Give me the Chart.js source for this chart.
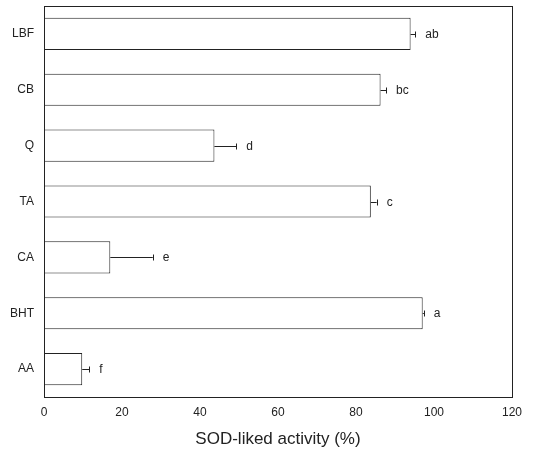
<!DOCTYPE html>
<html>
<head>
<meta charset="utf-8">
<script src="https://cdn.jsdelivr.net/npm/chart.js@4"></script>
<style>
  html, body { margin: 0; padding: 0; background: #fff; }
  #wrap { width: 537px; height: 453px; }
</style>
</head>
<body>
<div id="wrap"><canvas id="sodChart" width="537" height="453"></canvas></div>
<script>
// data
const categories = ['LBF', 'CB', 'Q', 'TA', 'CA', 'BHT', 'AA'];
const activity = [94.0, 86.3, 43.7, 83.8, 17.0, 97.1, 9.8];
const errors = [1.2, 1.4, 5.6, 1.5, 10.9, 0.3, 1.8];
const letters = ['ab', 'bc', 'd', 'c', 'e', 'a', 'f'];
const xTicks = [0, 20, 40, 60, 80, 100, 120];

const ink = '#222';
const face = '"Liberation Sans", Arial, sans-serif';

// error bars + significance letters, and the box around the plot
const extras = {
    id: 'extras',
    afterDatasetsDraw(chart) {
        const c = chart.ctx;
        const xs = chart.scales.x, ys = chart.scales.y;
        const area = chart.chartArea;
        c.save();
        c.strokeStyle = ink;
        c.lineWidth = 1;
        c.strokeRect(area.left + 0.5, area.top + 0.5, area.right - area.left, area.bottom - area.top);
        c.fillStyle = ink;
        c.font = '12px ' + face;
        c.textBaseline = 'middle';
        activity.forEach(function (v, i) {
            const y = Math.round(ys.getPixelForValue(i)) + 0.5;
            const x0 = xs.getPixelForValue(v);
            const x1 = xs.getPixelForValue(v + errors[i]);
            c.beginPath();
            c.moveTo(x0, y);
            c.lineTo(x1, y);
            c.moveTo(Math.round(x1) + 0.5, y - 3);
            c.lineTo(Math.round(x1) + 0.5, y + 3);
            c.stroke();
            c.fillText(letters[i], x1 + 10, y);
        });
        c.restore();
    }
};

const ctx = document.getElementById('sodChart').getContext('2d');
const sodChart = new Chart(ctx, {
    type: 'bar',
    data: {
        labels: categories,
        datasets: [{
            data: activity,
            backgroundColor: '#fff',
            borderColor: ink,
            borderWidth: 1,
            barPercentage: 0.72,
            categoryPercentage: 0.8
        }]
    },
    options: {
        indexAxis: 'y',
        responsive: false,
        animation: false,
        layout: { padding: { left: 0, right: 25, top: 6, bottom: 0 } },
        plugins: {
            legend: { display: false },
            tooltip: { enabled: false }
        },
        scales: {
            x: {
                min: 0,
                max: 120,
                afterBuildTicks: function (scale) {
                    scale.ticks = xTicks.map(function (v) { return { value: v }; });
                },
                afterFit: function (scale) { scale.height = 56; },
                grid: { display: false, drawTicks: false },
                border: { display: false },
                ticks: {
                    color: ink,
                    padding: 8,
                    maxRotation: 0,
                    font: { family: face, size: 12 }
                },
                title: {
                    display: true,
                    text: 'SOD-liked activity (%)',
                    color: ink,
                    padding: { top: 4, bottom: 3 },
                    font: { family: face, size: 17 }
                }
            },
            y: {
                afterFit: function (scale) {
                    scale.width = 44;
                    scale.paddingTop = 0;
                    scale.paddingBottom = 0;
                },
                grid: { display: false, drawTicks: false },
                border: { display: false },
                ticks: {
                    color: ink,
                    padding: 10,
                    font: { family: face, size: 12 }
                }
            }
        }
    },
    plugins: [extras]
});
</script>
</body>
</html>
